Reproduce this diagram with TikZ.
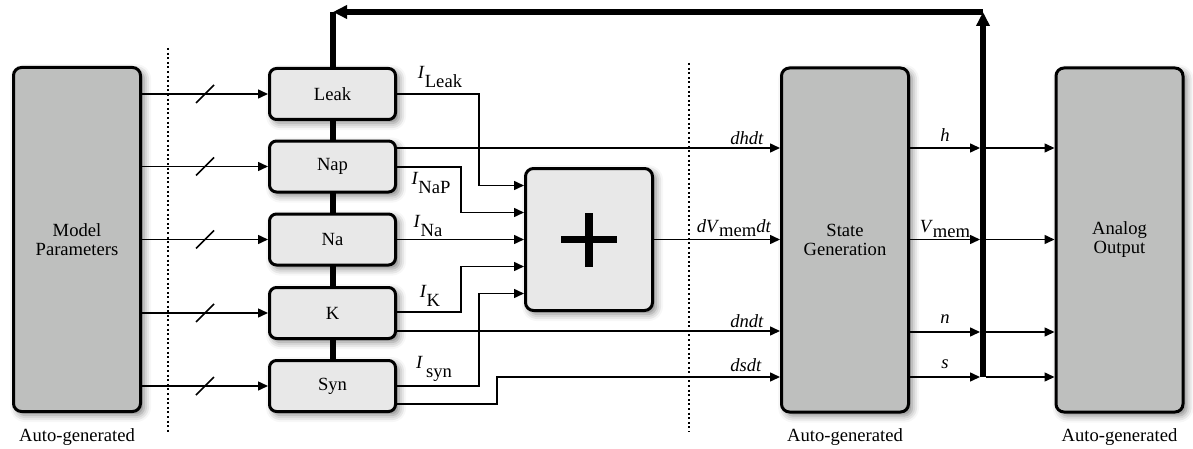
\documentclass[tikz,border=0pt]{standalone}
\usepackage{fontspec}
\setmainfont{Liberation Serif}
\usetikzlibrary{arrows.meta,shadows.blur}
\definecolor{bigfill}{HTML}{BEBFBE}
\definecolor{smallfill}{HTML}{E8E8E8}
\newcommand{\curlbl}[2]{\textit{#1}\raisebox{-1.1ex}{#2}}
\newcommand{\memsub}{\raisebox{-0.5ex}{mem}}
\begin{document}
\begin{tikzpicture}[x=0.5pt,y=-0.5pt, font=\fontsize{9.3}{9.5}\selectfont,
  boxshadow/.style={blur shadow={shadow xshift=1.8pt,shadow yshift=-1.8pt,shadow blur radius=3.5pt,shadow opacity=50}},
  bigbox/.style={draw, line width=1.5pt, fill=bigfill, rounded corners=4pt, minimum width=63.5pt, minimum height=172pt, align=center, inner sep=0pt, boxshadow},
  chan/.style={draw, line width=1.5pt, fill=smallfill, rounded corners=3.5pt, minimum width=63pt, minimum height=25.5pt, inner sep=0pt, boxshadow},
  sumbox/.style={draw, line width=1.5pt, fill=smallfill, rounded corners=4pt, minimum width=63.5pt, minimum height=71pt, inner sep=0pt, boxshadow},
  sig/.style={line width=0.75pt, -{Triangle[length=5pt,width=4.5pt]}},
  wire/.style={line width=0.75pt},
  bus/.style={line width=3pt},
  bustip/.style={-{Triangle[length=7pt,width=6.5pt]}},
  lbl/.style={inner sep=0pt},
  sepline/.style={line width=0.9pt, dash pattern=on 1pt off 1.3pt}]
\useasboundingbox (0,0) rectangle (1193,449);

% coordinates of the feedback bus
\coordinate (btr) at (983,12);
\coordinate (btl) at (333,12);
\coordinate (bbot) at (983,377);
\coordinate (bdown) at (333,386);

% bus behind the channel boxes
\draw[bus] (btl) -- (bdown);

% boxes
\node[bigbox] (mp) at (77,239.5) {Model\\Parameters};
\node[chan] (leak) at (332.5,94) {Leak};
\node[chan] (nap) at (332.5,166.5) {Nap};
\node[chan] (na) at (332.5,239.5) {Na};
\node[chan] (k) at (332.5,313) {K};
\node[chan] (syn) at (332.5,386) {Syn};
\node[sumbox] (sum) at (589,239.5) {};
\node[bigbox] (sg) at (845,240) {State\\Generation};
\node[bigbox] (ao) at (1119.5,240) {Analog\\Output};

% plus sign
\draw[line width=3.6pt] ([xshift=-14pt]sum.center) -- ([xshift=14pt]sum.center);
\draw[line width=3.6pt] ([yshift=-13.5pt]sum.center) -- ([yshift=13.5pt]sum.center);

% captions
\node (ag1) at (77,437) {Auto-generated};
\node (ag2) at (845,437) {Auto-generated};
\node (ag3) at (1119.5,437) {Auto-generated};

% separators
\coordinate (d1a) at (168,48);
\coordinate (d1b) at (168,432);
\coordinate (d2a) at (689,63);
\coordinate (d2b) at (689,432);
\draw[sepline] (d1a) -- (d1b);
\draw[sepline] (d2a) -- (d2b);

% parameter buses
\foreach \n in {leak,nap,na,k,syn}{
  \draw[sig] (mp.east |- \n.west) -- coordinate[pos=0.5] (m\n) (\n.west);
  \draw[wire] ([shift={(-9,9)}]m\n) -- ([shift={(9,-9)}]m\n);
}

% currents into the adder
\draw[sig] (leak.east) -| (479,185.5) -- (sum.west |- 0,185.5);
\draw[sig] (nap.east |- 0,167) -| (461,212.5) -- (sum.west |- 0,212.5);
\draw[sig] (na.east) -- (sum.west |- na.east);
\draw[sig] (k.east |- 0,312) -| (461,266.5) -- (sum.west |- 0,266.5);
\draw[sig] (syn.east |- 0,386) -| (479,293.5) -- (sum.west |- 0,293.5);

% derivatives into state generation
\draw[sig] (nap.east |- 0,148) -- (sg.west |- 0,148);
\draw[sig] (sum.east) -- (sg.west |- sum.east);
\draw[sig] (k.east |- 0,331) -- (sg.west |- 0,331);
\draw[sig] (syn.east |- 0,404) -| (497,377) -- (sg.west |- 0,377);

% state outputs
\foreach \y in {148,239.5,332,377}{
  \draw[sig] (sg.east |- 0,\y) -- (980,\y);
  \draw[sig] (986,\y) -- (ao.west |- 0,\y);
}

% feedback bus
\draw[bus,bustip] (bbot) -- (btr);
\draw[bus,bustip] (btr) -- (btl);

% labels
\node[lbl] (lleak) at (440,77) {\curlbl{I}{Leak}};
\node[lbl] (lnap) at (431,183) {\curlbl{I}{NaP}};
\node[lbl] (lna) at (428,226) {\curlbl{I}{Na}};
\node[lbl] (lk) at (430,296) {\curlbl{I}{K}};
\node[lbl] (lsyn) at (434,369) {\textit{I}\,\raisebox{-1.1ex}{syn}};
\node[lbl] (ldh) at (747,138) {\textit{dhdt}};
\node[lbl] (ldv) at (734,228) {\textit{dV}\memsub\textit{dt}};
\node[lbl] (ldn) at (747,321) {\textit{dndt}};
\node[lbl] (lds) at (746,365) {\textit{dsdt}};
\node[lbl] (lh) at (945,135) {\textit{h}};
\node[lbl] (lv) at (945,229) {\textit{V}\memsub};
\node[lbl] (ln) at (945,319) {\textit{n}};
\node[lbl] (ls) at (945,364) {\textit{s}};
\end{tikzpicture}
\end{document}
